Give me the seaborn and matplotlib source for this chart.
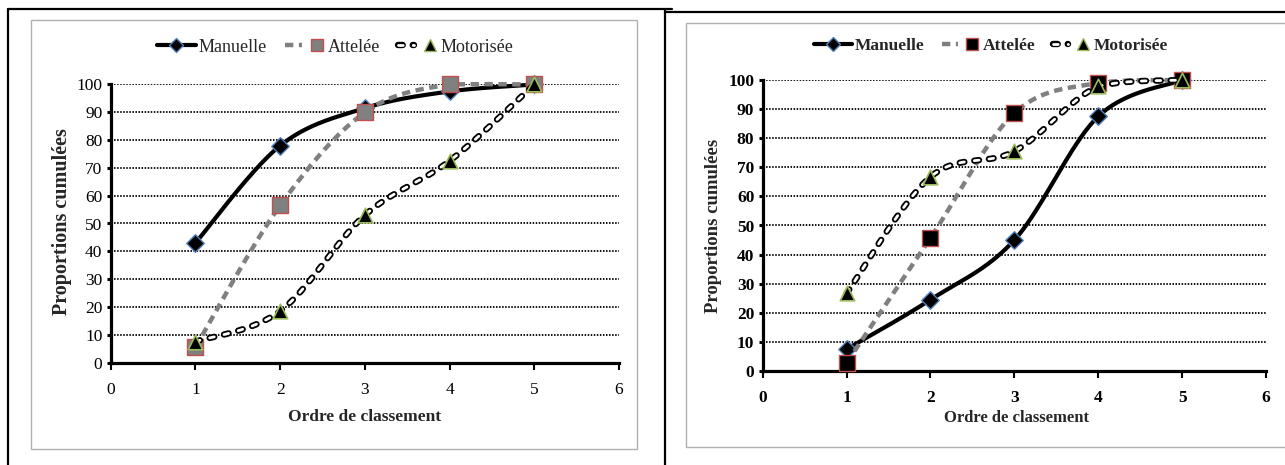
import numpy as np
import pandas as pd
import matplotlib
matplotlib.use("Agg")
import matplotlib.pyplot as plt
import matplotlib.patheffects as pe
import seaborn as sns
from matplotlib.lines import Line2D
from matplotlib.patches import Rectangle
from matplotlib.legend_handler import HandlerTuple

# ---------------- data ----------------
rang = [1, 2, 3, 4, 5]
series_names = ["Manuelle", "Attelée", "Motorisée"]
manuelle_a = [43, 78, 91.5, 97.5, 100]
attelee_a = [5.5, 56.5, 90, 100, 100]
motorisee_a = [7.5, 18.5, 53, 72.5, 100]
manuelle_b = [7.5, 24.5, 45, 87.5, 100]
attelee_b = [2.8, 45.7, 88.6, 99, 100]
motorisee_b = [26.7, 66.7, 75.5, 97.8, 100]
x_ticks = [0, 1, 2, 3, 4, 5, 6]
y_ticks = [0, 10, 20, 30, 40, 50, 60, 70, 80, 90, 100]
x_label = "Ordre de classement"
y_label = "Proportions cumulées"

sns.set_theme(style="white")
plt.rcParams['font.family'] = ['Liberation Serif', 'DejaVu Serif']
plt.rcParams['lines.scale_dashes'] = False

W, H = 1285, 465
fig = plt.figure(figsize=(W / 100, H / 100), dpi=100)


def fx(px):
    return px / W


def fy(py):
    return (H - py) / H


def smooth(xs, ys, n=40):
    pts = np.column_stack([xs, ys]).astype(float)
    P = np.vstack([pts[0], pts, pts[-1]])
    t = np.linspace(0, 1, n)
    out = []
    for i in range(1, len(P) - 2):
        p0, p1, p2, p3 = P[i - 1], P[i], P[i + 1], P[i + 2]
        c1 = p1 + (p2 - p0) / 6
        c2 = p2 - (p3 - p1) / 6
        c1[1] = min(c1[1], 100.3)
        c2[1] = min(c2[1], 100.3)
        seg = (((1 - t) ** 3)[:, None] * p1 + (3 * (1 - t) ** 2 * t)[:, None] * c1
               + (3 * (1 - t) * t ** 2)[:, None] * c2 + (t ** 3)[:, None] * p2)
        out.append(seg if i == 1 else seg[1:])
    arr = np.vstack(out)
    return pd.DataFrame({"x": arr[:, 0], "y": arr[:, 1]})


# frames
frame_kw = dict(color="black", lw=1.6, transform=fig.transFigure)
fig.add_artist(Line2D([fx(8), fx(8)], [fy(9), fy(H)], **frame_kw))
fig.add_artist(Line2D([fx(8), fx(672)], [fy(9.5), fy(9.5)], **frame_kw))
fig.add_artist(Line2D([fx(665), fx(665)], [fy(9.5), fy(H)], **frame_kw))
fig.add_artist(Line2D([fx(665), fx(W)], [fy(12), fy(12)], **frame_kw))
fig.add_artist(Rectangle((fx(31), fy(449)), fx(637) - fx(31), fy(20) - fy(449),
                         transform=fig.transFigure, fill=False, edgecolor="#b0b0b0", lw=1))
fig.add_artist(Rectangle((fx(686), fy(447)), fx(1292) - fx(686), fy(23) - fy(447),
                         transform=fig.transFigure, fill=False, edgecolor="#b0b0b0", lw=1))

GRAY = "#808080"
RED = "#c0504d"
BLUE = "#4f81bd"
GREEN = "#9bbb59"
MOT_DASH = (0, (3.4, 7.2))
MOT_PE = [pe.Stroke(linewidth=4.6, foreground="black"), pe.Normal()]


def draw_panel(rect, man, att, mot, bold, square_fill, tick_fs, lab_fs, ylab_fs, leg_fs,
               ylab_xy, xlab_xy, leg_xy, xpad):
    ax = fig.add_axes(rect)
    ax.set_xlim(0, 6)
    ax.set_ylim(0, 100)
    ax.set_xticks(x_ticks)
    ax.set_yticks(y_ticks)
    weight = "bold" if bold else "normal"
    ax.set_xticklabels([str(v) for v in x_ticks], fontsize=tick_fs, fontweight=weight)
    ax.set_yticklabels([str(v) for v in y_ticks], fontsize=tick_fs, fontweight=weight)
    ax.yaxis.grid(True, color="black", linestyle=(0, (1.1, 1.1)), linewidth=1.3, zorder=0.5)
    ax.xaxis.grid(False)
    ax.set_axisbelow(True)
    sns.despine(ax=ax)
    for s in ("left", "bottom"):
        ax.spines[s].set_linewidth(2.3)
        ax.spines[s].set_color("black")
        ax.spines[s].set_zorder(2.5)
    ax.tick_params(axis="y", direction="out", length=3, width=2.2, left=True, pad=3,
                   colors="black")
    ax.tick_params(axis="x", direction="out", length=5, width=1.5, bottom=True, pad=xpad,
                   colors="black")

    # Manuelle
    sns.lineplot(data=smooth(rang, man), x="x", y="y", ax=ax, color="black", lw=3.0,
                 sort=False, estimator=None, zorder=3, clip_on=False,
                 solid_capstyle="round")
    sns.scatterplot(x=rang, y=man, ax=ax, marker="D", s=80, color="black",
                    edgecolor=BLUE, linewidth=1.0, zorder=3.1, clip_on=False)
    # Attelée
    sns.lineplot(data=smooth(rang, att), x="x", y="y", ax=ax, color=GRAY, lw=3.2,
                 sort=False, estimator=None, zorder=4, clip_on=False,
                 linestyle=(0, (6, 4)))
    sns.scatterplot(x=rang, y=att, ax=ax, marker="s", s=130, color=square_fill,
                    edgecolor=RED, linewidth=1.0, zorder=4.1, clip_on=False)
    # Motorisée (hollow dashes)
    sns.lineplot(data=smooth(rang, mot), x="x", y="y", ax=ax, color="white", lw=2.0,
                 sort=False, estimator=None, zorder=5, clip_on=False,
                 linestyle=MOT_DASH, dash_capstyle="round", path_effects=MOT_PE)
    sns.scatterplot(x=rang, y=mot, ax=ax, marker="^", s=110, color="black",
                    edgecolor=GREEN, linewidth=1.2, zorder=5.1, clip_on=False)

    ax.set_xlabel(x_label, fontsize=lab_fs, fontweight="bold")
    ax.set_ylabel(y_label, fontsize=ylab_fs, fontweight="bold")
    ax.yaxis.set_label_coords(*ylab_xy)
    ax.xaxis.set_label_coords(*xlab_xy)
    ax.yaxis.label.set_va("center")
    ax.xaxis.label.set_va("center")

    h_man = Line2D([], [], color="black", lw=3.0, marker="D", markersize=7,
                   markerfacecolor="black", markeredgecolor=BLUE)
    h_att = (Line2D([], [], color=GRAY, lw=3.2, linestyle=(0, (6, 4))),
             Line2D([], [], ls="none", marker="s", markersize=9, markerfacecolor=square_fill,
                    markeredgecolor=RED))
    h_mot = (Line2D([], [], color="white", lw=2.0, linestyle=MOT_DASH,
                    dash_capstyle="round", path_effects=MOT_PE),
             Line2D([], [], ls="none", marker="^", markersize=8, markerfacecolor="black",
                    markeredgecolor=GREEN))
    ax.legend([h_man, h_att, h_mot], series_names, loc="center",
              bbox_to_anchor=leg_xy, bbox_transform=fig.transFigure, ncol=3,
              frameon=False, handlelength=2.2, handletextpad=0.15, columnspacing=1.0,
              handler_map={tuple: HandlerTuple(ndivide=None)},
              prop={"size": leg_fs, "weight": weight})
    return ax


draw_panel([fx(110.7), fy(362.5), fx(619) - fx(110.7), fy(84.5) - fy(362.5)],
           manuelle_a, attelee_a, motorisee_a, bold=False, square_fill=GRAY,
           tick_fs=12.5, lab_fs=12.5, ylab_fs=14.5, leg_fs=13,
           ylab_xy=((62 - 110.7) / 508.3, (362.5 - 222) / 278),
           xlab_xy=((365 - 110.7) / 508.3, (362.5 - 417) / 278),
           leg_xy=(fx(335), fy(47)), xpad=9)

draw_panel([fx(762.7), fy(371), fx(1266) - fx(762.7), fy(80) - fy(371)],
           manuelle_b, attelee_b, motorisee_b, bold=True, square_fill="black",
           tick_fs=12.5, lab_fs=12, ylab_fs=13.5, leg_fs=12.5,
           ylab_xy=((713 - 762.7) / 503.3, (371 - 226) / 291),
           xlab_xy=((1016 - 762.7) / 503.3, (371 - 418) / 291),
           leg_xy=(fx(991), fy(46)), xpad=9)

fig.savefig("out.png", dpi=100)
